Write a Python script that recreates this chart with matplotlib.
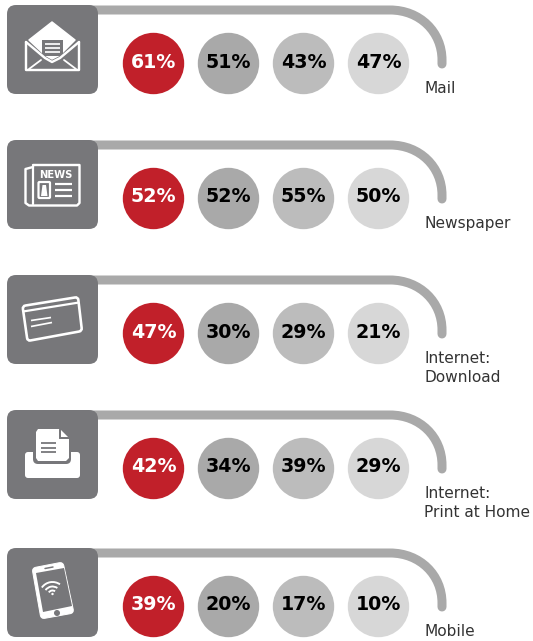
import matplotlib
matplotlib.use("Agg")
import matplotlib.pyplot as plt
import numpy as np
from matplotlib.patches import Circle, FancyBboxPatch, PathPatch, Polygon, Arc, Rectangle
from matplotlib.path import Path

categories = ["Mail", "Newspaper", "Internet:\nDownload", "Internet:\nPrint at Home", "Mobile"]
icons = ["mail", "news", "card", "print", "phone"]
col1 = [61, 52, 47, 42, 39]
col2 = [51, 52, 30, 34, 20]
col3 = [43, 55, 29, 39, 17]
col4 = [47, 50, 21, 29, 10]
row_tops = [5, 140, 275, 410, 548]

RED = "#C1202A"
BOX = "#77777A"
BAR = "#A9A9A9"
fills = [RED, "#A9A9A9", "#BCBCBC", "#D7D7D7"]
inks = ["white", "black", "black", "black"]
col_x = [153.5, 228.5, 303.5, 378.5]
R = 30.7

fig = plt.figure(figsize=(5.33, 6.41), dpi=100)
ax = fig.add_axes([0, 0, 1, 1])
ax.set_xlim(0, 533)
ax.set_ylim(641, 0)
ax.axis("off")
PX = 0.72


def line(pts, top, lw=2.0, color="white", z=5, join="round", cap="round"):
    p = np.array(pts, float) + [0, top]
    ax.plot(p[:, 0], p[:, 1], color=color, lw=lw * PX, zorder=z, solid_capstyle=cap, solid_joinstyle=join)


def poly(pts, top, fc="white", z=5, ec=None, lw=0):
    p = np.array(pts, float) + [0, top]
    ax.add_patch(Polygon(p, closed=True, fc=fc, ec=ec if ec else fc, lw=lw * PX, zorder=z, joinstyle="round"))


def rounded(pts, top, r, fc="none", ec="white", lw=2.0, z=5):
    """Closed polygon whose corners are rounded with quadratic curves."""
    p = np.array(pts, float) + [0, top]
    n = len(p)
    verts, codes = [], []
    for i in range(n):
        a, b, c = p[i - 1], p[i], p[(i + 1) % n]
        u = (a - b) / np.linalg.norm(a - b)
        v = (c - b) / np.linalg.norm(c - b)
        verts += [b + u * r, b, b + v * r]
        codes += [Path.MOVETO if i == 0 else Path.LINETO, Path.CURVE3, Path.CURVE3]
    verts.append(verts[0])
    codes.append(Path.CLOSEPOLY)
    ax.add_patch(PathPatch(Path(verts, codes), fc=fc, ec=ec, lw=lw * PX, zorder=z))


def rbox(x0, y0, x1, y1, r, top, fc="white", ec="none", lw=0, z=5):
    ax.add_patch(FancyBboxPatch((x0 + r, y0 + top + r), x1 - x0 - 2 * r, y1 - y0 - 2 * r,
                                boxstyle=f"round,pad={r},rounding_size={r}",
                                fc=fc, ec=ec, lw=lw * PX, zorder=z))


def draw_mail(t):
    poly([(29, 35), (52, 17), (75, 35), (60, 50), (52, 54), (45, 50)], t, lw=1.5)
    ax.add_patch(Rectangle((42, t + 35), 21, 16, fc=BOX, ec="none", zorder=6))
    for y in (39, 43, 47):
        line([(45, y), (60, y)], t, lw=1.7, z=7, cap="butt")
    line([(26, 37), (26, 65), (79, 65), (79, 37)], t, lw=2.4)
    line([(26, 37), (45, 53), (52, 57), (60, 53), (79, 37)], t, lw=2.4, z=7)
    line([(29, 64), (41, 55)], t, lw=1.8)
    line([(76, 64), (64, 55)], t, lw=1.8)


def draw_news(t):
    line([(33, 26), (33, 64)], t, lw=2.2)
    line([(33, 27), (25.5, 29), (25.5, 63), (29, 65.5), (77, 65.5), (79.5, 63), (79.5, 25), (33, 25)], t, lw=2.4)
    ax.text(55.5, t + 35, "NEWS", color="white", fontsize=7.2, fontweight="bold",
            family="DejaVu Sans", ha="center", va="center", zorder=6)
    rbox(38.5, 42, 50, 58, 1, t, fc="none", ec="white", lw=2.2)
    poly([(42.5, 45), (46, 45), (47.5, 56), (41, 56)], t)
    for y in (44, 50, 56):
        line([(55, y), (72, y)], t, lw=2.2, cap="butt")


def draw_card(t):
    rounded([(22.5, 31), (78, 22), (82, 56), (27.5, 66)], t, 3, lw=2.6)
    line([(23, 36.5), (79, 27.5)], t, lw=2.2, cap="butt")
    line([(31, 45.5), (51, 42.5)], t, lw=1.7, cap="butt")
    line([(31, 51.5), (52, 47.5)], t, lw=1.7, cap="butt")


def draw_print(t):
    rbox(25, 42, 80, 68, 3, t)
    rbox(33, 17, 71, 54, 5, t, fc=BOX)
    poly([(38, 19), (59, 19), (69, 28), (69, 48), (66, 51), (38, 51), (36, 48), (36, 22)], t, z=6)
    poly([(59, 19), (59, 28), (69, 28)], t, fc=BOX, z=6, ec=BOX, lw=1)
    poly([(61, 20), (61, 26.5), (68, 26.5)], t, z=7)
    for y in (33, 37.5, 42):
        line([(41, y), (56, y)], t, lw=1.8, z=7, cap="butt", color=BOX)


def draw_phone(t):
    rounded([(32, 20), (63, 14), (74, 65), (41, 71)], t, 4, fc="white", ec="white", lw=1)
    poly([(36, 25), (64, 20), (72, 58), (43, 64)], t, fc=BOX, z=6)
    line([(45, 20.5), (53, 19)], t, lw=1.5, color=BOX, z=7)
    ax.add_patch(Circle((57, t + 65), 3.0, fc=BOX, ec="none", zorder=7))
    cx, cy = 52.5, t + 47
    for d in (9, 17, 26):
        ax.add_patch(Arc((cx, cy), d, d, angle=-10, theta1=225, theta2=315,
                         ec="white", lw=1.9 * PX, zorder=7))
    ax.add_patch(Circle((cx, cy - 1), 1.2, fc="white", ec="none", zorder=7))


draw = dict(mail=draw_mail, news=draw_news, card=draw_card, print=draw_print, phone=draw_phone)
columns = [col1, col2, col3, col4]

for i, (label, icon, top) in enumerate(zip(categories, icons, row_tops)):
    yb = top + 5
    verts = [(60, yb), (390, yb), (420, yb), (442, yb + 22), (442, yb + 50), (442, yb + 54)]
    codes = [Path.MOVETO, Path.LINETO, Path.CURVE4, Path.CURVE4, Path.CURVE4, Path.LINETO]
    ax.add_patch(PathPatch(Path(verts, codes), fc="none", ec=BAR, lw=9 * PX, capstyle="round", zorder=1))
    rbox(7, top, 98, top + 89, 9, 0, fc=BOX, z=2)
    draw[icon](top)
    cy = top + 58.5
    for cx, col, fc, ink in zip(col_x, columns, fills, inks):
        ax.add_patch(Circle((cx, cy), R, fc=fc, ec="none", zorder=3))
        ax.text(cx, cy - 1.5, f"{col[i]}%", color=ink, fontsize=19 * PX, fontweight="bold",
                family="DejaVu Sans", ha="center", va="center", zorder=4)
    base = top + 88
    for k, s in enumerate(label.split("\n")):
        ax.text(424, base + k * 19, s, color="#333333", fontsize=15.4 * PX, family="DejaVu Sans",
                ha="left", va="baseline", zorder=4)

fig.savefig("out.png", dpi=100)
